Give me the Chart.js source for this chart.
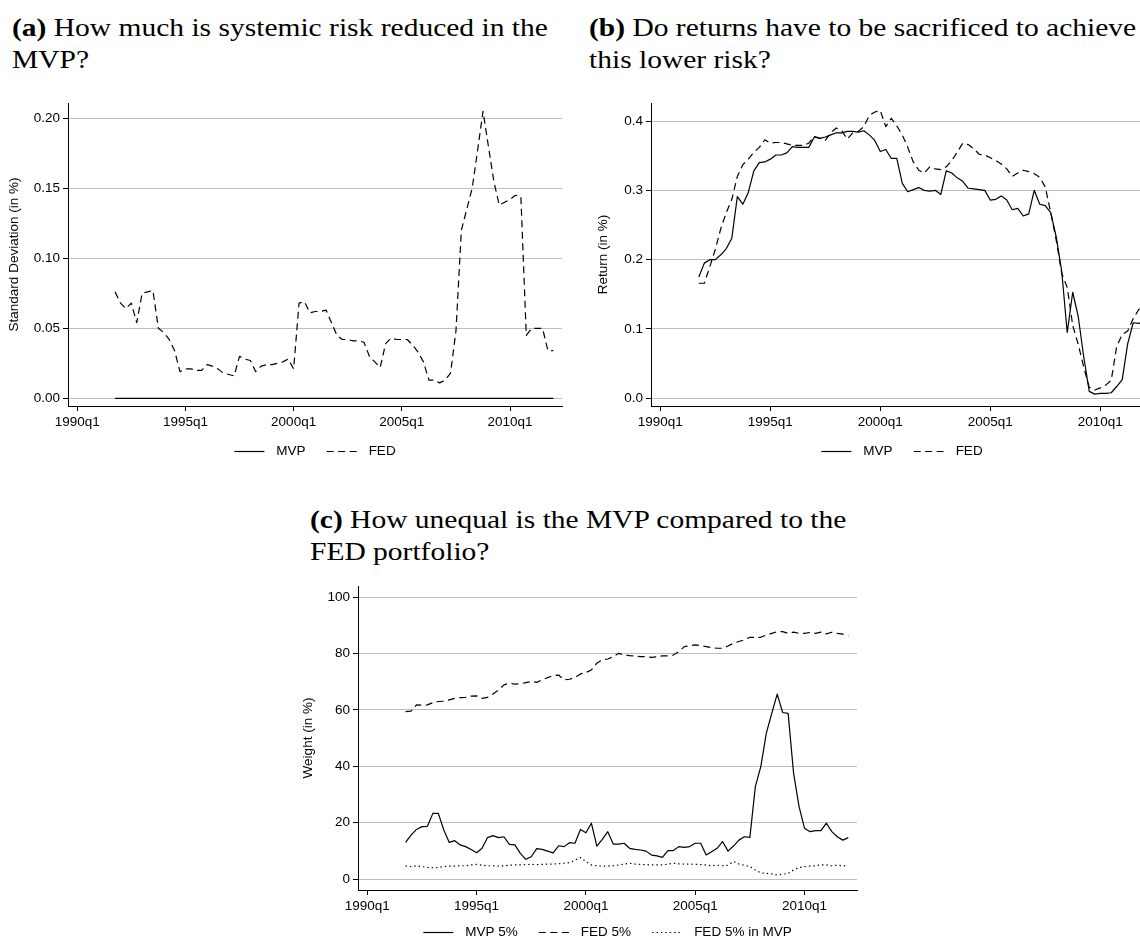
<!DOCTYPE html>
<html>
<head>
<meta charset="utf-8">
<script src="https://cdn.jsdelivr.net/npm/chart.js@4.4.1/dist/chart.umd.min.js"></script>
<style>
  html, body { margin: 0; padding: 0; background: #fff; width: 1140px; height: 940px; overflow: hidden; position: relative; }
  canvas { position: absolute; }
  .cap { position: absolute; font-family: 'Liberation Serif', 'Times New Roman', serif; font-size: 25px; line-height: 32px; color: #000; white-space: nowrap; transform: scaleX(1.18); transform-origin: 0 0; }
  .cap b { font-weight: bold; }
</style>
</head>
<body>
<div class="cap" style="left:12px;top:12px"><b>(a)</b> How much is systemic risk reduced in the<br>MVP?</div>
<div class="cap" style="left:589px;top:12px"><b>(b)</b> Do returns have to be sacrificed to achieve<br>this lower risk?</div>
<div class="cap" style="left:310px;top:504px"><b>(c)</b> How unequal is the MVP compared to the<br>FED portfolio?</div>

<canvas id="chartA" width="570" height="380" style="left:0;top:90px"></canvas>
<canvas id="chartB" width="600" height="380" style="left:570px;top:90px"></canvas>
<canvas id="chartC" width="580" height="370" style="left:290px;top:570px"></canvas>

<script>
// Quarters counted from 1990q1 (0 = 1990q1); the sample runs 1991q4 .. 2012q1
const quarters = [];
for (let q = 7; q <= 88; q++) quarters.push(q);

// Date axis ticks
const xTickValues = [0, 20, 40, 60, 80];
const xTickLabels = ['1990q1', '1995q1', '2000q1', '2005q1', '2010q1'];

// (a) Standard deviation (in %)
const sdMVP = [
  0, 0, 0, 0, 0, 0, 0, 0, 0, 0, 0, 0, 0, 0, 0, 0, 0, 0, 0, 0,
  0, 0, 0, 0, 0, 0, 0, 0, 0, 0, 0, 0, 0, 0, 0, 0, 0, 0, 0, 0,
  0, 0, 0, 0, 0, 0, 0, 0, 0, 0, 0, 0, 0, 0, 0, 0, 0, 0, 0, 0,
  0, 0, 0, 0, 0, 0, 0, 0, 0, 0, 0, 0, 0, 0, 0, 0, 0, 0, 0, 0,
  0, 0
];
const sdFED = [
  0.076, 0.068, 0.064, 0.068, 0.054, 0.075, 0.076, 0.077, 0.050, 0.047,
  0.042, 0.034, 0.019, 0.021, 0.021, 0.020, 0.020, 0.024, 0.023, 0.021,
  0.018, 0.017, 0.016, 0.030, 0.028, 0.027, 0.019, 0.023, 0.024, 0.024,
  0.025, 0.026, 0.028, 0.021, 0.068, 0.069, 0.061, 0.062, 0.062, 0.063,
  0.054, 0.045, 0.042, 0.042, 0.041, 0.041, 0.040, 0.030, 0.026, 0.022,
  0.039, 0.043, 0.042, 0.042, 0.042, 0.038, 0.033, 0.026, 0.013, 0.013,
  0.011, 0.013, 0.018, 0.048, 0.120, 0.135, 0.150, 0.177, 0.205, 0.180,
  0.155, 0.138, 0.140, 0.142, 0.145, 0.144, 0.045, 0.050, 0.050, 0.050,
  0.034, 0.034
];
const sdTickValues = [0, 0.05, 0.10, 0.15, 0.20];
const sdTickLabels = ['0.00', '0.05', '0.10', '0.15', '0.20'];

// (b) Return (in %)
const retMVP = [
  0.175, 0.195, 0.200, 0.200, 0.207, 0.216, 0.231, 0.291, 0.280, 0.297,
  0.328, 0.340, 0.341, 0.345, 0.351, 0.351, 0.354, 0.363, 0.362, 0.362,
  0.362, 0.377, 0.375, 0.377, 0.380, 0.383, 0.383, 0.385, 0.385, 0.384,
  0.386, 0.380, 0.372, 0.356, 0.359, 0.346, 0.346, 0.310, 0.298, 0.301,
  0.304, 0.300, 0.299, 0.300, 0.294, 0.328, 0.325, 0.318, 0.313, 0.303,
  0.302, 0.301, 0.300, 0.286, 0.287, 0.292, 0.286, 0.272, 0.274, 0.263,
  0.266, 0.300, 0.280, 0.278, 0.268, 0.233, 0.183, 0.095, 0.153, 0.118,
  0.060, 0.010, 0.006, 0.007, 0.007, 0.008, 0.017, 0.027, 0.079, 0.109,
  0.108, 0.110
];
const retFED = [
  0.166, 0.166, 0.190, 0.215, 0.245, 0.268, 0.287, 0.320, 0.337, 0.345,
  0.355, 0.362, 0.373, 0.368, 0.369, 0.369, 0.367, 0.365, 0.365, 0.365,
  0.368, 0.378, 0.375, 0.372, 0.383, 0.390, 0.386, 0.374, 0.383, 0.385,
  0.392, 0.408, 0.413, 0.415, 0.392, 0.404, 0.393, 0.380, 0.362, 0.341,
  0.329, 0.325, 0.334, 0.331, 0.330, 0.334, 0.343, 0.355, 0.368, 0.366,
  0.360, 0.352, 0.351, 0.347, 0.343, 0.338, 0.331, 0.320, 0.325, 0.329,
  0.327, 0.324, 0.319, 0.305, 0.268, 0.228, 0.180, 0.160, 0.105, 0.078,
  0.045, 0.016, 0.012, 0.015, 0.019, 0.026, 0.075, 0.092, 0.097, 0.115,
  0.128, 0.135
];
const retTickValues = [0, 0.1, 0.2, 0.3, 0.4];
const retTickLabels = ['0.0', '0.1', '0.2', '0.3', '0.4'];

// (c) Weight (in %)
const wMVP5 = [
  13.0, 15.6, 17.6, 18.6, 18.7, 23.3, 23.3, 17.4, 13.0, 13.6,
  12.1, 11.5, 10.5, 9.3, 10.9, 14.7, 15.4, 14.7, 15.0, 12.3,
  12.1, 9.1, 7.0, 7.9, 10.8, 10.5, 9.9, 9.3, 11.8, 11.5,
  12.9, 12.7, 17.6, 16.4, 19.8, 11.7, 14.1, 16.8, 12.4, 12.4,
  12.7, 10.9, 10.5, 10.3, 9.9, 8.5, 8.2, 7.7, 10.1, 10.1,
  11.5, 11.2, 11.5, 12.7, 12.7, 8.5, 9.7, 10.9, 13.3, 9.9,
  11.7, 13.8, 15.0, 14.8, 32.8, 39.9, 51.7, 58.8, 65.6, 59.1,
  58.8, 37.5, 25.7, 18.0, 16.8, 17.2, 17.2, 19.8, 16.8, 15.0,
  13.8, 14.7
];
const wFED5 = [
  59.4, 59.6, 61.8, 61.7, 61.8, 62.6, 63.0, 63.1, 63.6, 64.1,
  64.4, 64.5, 64.9, 65.0, 64.1, 64.5, 65.7, 67.1, 68.9, 69.5,
  69.2, 69.3, 69.7, 70.1, 69.8, 70.7, 71.5, 72.2, 72.4, 70.7,
  70.9, 71.5, 72.8, 73.3, 74.2, 76.6, 77.8, 78.1, 78.9, 80.1,
  79.5, 79.3, 79.2, 78.9, 78.9, 78.7, 78.9, 79.2, 79.2, 79.5,
  80.7, 82.5, 82.8, 83.1, 82.8, 82.5, 82.1, 81.9, 81.9, 82.7,
  83.7, 84.3, 84.9, 85.8, 85.8, 85.8, 86.6, 87.2, 87.8, 87.8,
  87.2, 87.6, 87.2, 87.2, 87.5, 87.2, 87.6, 87.0, 87.6, 87.2,
  86.9, 86.4
];
const wFED5inMVP = [
  4.6, 4.4, 4.7, 4.4, 4.1, 4.0, 4.1, 4.4, 4.6, 4.6,
  4.7, 4.7, 5.0, 5.2, 4.9, 4.7, 4.7, 4.6, 4.7, 4.9,
  5.0, 5.0, 5.1, 5.2, 5.1, 5.2, 5.3, 5.3, 5.4, 5.6,
  5.8, 6.7, 7.6, 6.2, 5.0, 4.7, 4.6, 4.6, 4.7, 5.0,
  5.3, 5.6, 5.3, 5.2, 5.1, 5.0, 5.0, 5.0, 5.3, 5.6,
  5.4, 5.3, 5.3, 5.2, 5.1, 5.0, 4.7, 4.9, 4.7, 4.9,
  6.2, 5.3, 4.9, 4.4, 3.2, 2.2, 2.0, 1.8, 1.4, 1.7,
  2.0, 3.2, 4.1, 4.4, 4.6, 4.7, 5.0, 5.0, 4.7, 4.9,
  4.7, 4.6
];
const wTickValues = [0, 20, 40, 60, 80, 100];
const wTickLabels = ['0', '20', '40', '60', '80', '100'];

// ---------------------------------------------------------------
const SANS = "'Liberation Sans', Arial, Helvetica, sans-serif";
const FONT = { family: SANS, size: 13.5 };
const SOLID = [];
const DASH = [7, 4.5];
const DOT = [1.4, 3];

Chart.defaults.color = '#000';
Chart.defaults.font.family = SANS;

function series(label, values, dash) {
  return {
    label,
    data: values.map((v, i) => ({ x: quarters[i], y: v })),
    borderColor: '#000',
    borderWidth: 1.2,
    borderDash: dash,
    borderJoinStyle: 'round',
    pointRadius: 0,
    fill: false,
    tension: 0
  };
}

// Legend row centred under the plot: short line sample followed by its label
const lineLegend = {
  id: 'lineLegend',
  afterDraw(chart, args, opts) {
    const { ctx, chartArea } = chart;
    const sample = 30, gapText = 12, gapItem = 21;
    ctx.save();
    ctx.font = `13.5px ${SANS}`;
    const items = chart.data.datasets.map(ds => ({ ds, w: ctx.measureText(ds.label).width }));
    const total = items.reduce((s, it) => s + sample + gapText + it.w, 0) + gapItem * (items.length - 1);
    let x = (chartArea.left + chartArea.right) / 2 - total / 2;
    const y = chartArea.bottom + (opts.offset || 45);
    ctx.textBaseline = 'middle';
    ctx.fillStyle = '#000';
    for (const it of items) {
      ctx.beginPath();
      ctx.setLineDash(it.ds.borderDash);
      ctx.lineWidth = it.ds.borderWidth;
      ctx.strokeStyle = '#000';
      ctx.moveTo(x, y + 0.5);
      ctx.lineTo(x + sample, y + 0.5);
      ctx.stroke();
      ctx.setLineDash([]);
      ctx.fillText(it.ds.label, x + sample + gapText, y);
      x += sample + gapText + it.w + gapItem;
    }
    ctx.restore();
  }
};

function makeChart(id, p) {
  return new Chart(document.getElementById(id), {
    type: 'line',
    data: { datasets: p.datasets },
    plugins: [lineLegend],
    options: {
      responsive: false,
      animation: false,
      devicePixelRatio: 1,
      layout: { padding: p.padding },
      plugins: { legend: { display: false }, tooltip: { enabled: false }, lineLegend: { offset: p.legendOffset } },
      scales: {
        x: {
          type: 'linear',
          min: -1.7,
          max: 89.6,
          afterBuildTicks: s => { s.ticks = xTickValues.map(v => ({ value: v })); },
          afterFit: s => { s.height = 30; },
          ticks: {
            autoSkip: false, maxRotation: 0, padding: 3, font: FONT, color: '#000',
            callback: (v, i) => xTickLabels[i]
          },
          grid: { drawOnChartArea: false, drawTicks: true, tickLength: 5, tickColor: '#000', tickWidth: 1 },
          border: { display: true, color: '#000', width: 1 }
        },
        y: {
          type: 'linear',
          min: p.yMin,
          max: p.yMax,
          afterBuildTicks: s => { s.ticks = p.yTicks.map(v => ({ value: v })); },
          afterFit: s => { s.width = p.yWidth; },
          ticks: {
            padding: 3, font: FONT, color: '#000',
            callback: (v, i) => p.yLabels[i]
          },
          grid: { color: '#bfbfbf', lineWidth: 1, tickLength: 5, tickColor: '#000', tickWidth: 1 },
          border: { display: true, color: '#000', width: 1 },
          title: { display: true, text: p.yTitle, font: FONT, color: '#000', padding: { top: p.titlePad, bottom: 0 } }
        }
      }
    }
  });
}

makeChart('chartA', {
  datasets: [series('MVP', sdMVP, SOLID), series('FED', sdFED, DASH)],
  padding: { top: 13, right: 8, bottom: 34, left: 0 },
  yWidth: 68, titlePad: 6, legendOffset: 45,
  yMin: -0.0055, yMax: 0.2109,
  yTicks: sdTickValues, yLabels: sdTickLabels,
  yTitle: 'Standard Deviation (in %)'
});

makeChart('chartB', {
  datasets: [series('MVP', retMVP, SOLID), series('FED', retFED, DASH)],
  padding: { top: 13, right: 17, bottom: 34, left: 0 },
  yWidth: 81, titlePad: 25, legendOffset: 45,
  yMin: -0.0111, yMax: 0.426,
  yTicks: retTickValues, yLabels: retTickLabels,
  yTitle: 'Return (in %)'
});

makeChart('chartC', {
  datasets: [
    series('MVP 5%', wMVP5, SOLID),
    series('FED 5%', wFED5, DASH),
    series('FED 5% in MVP', wFED5inMVP, DOT)
  ],
  padding: { top: 16, right: 13, bottom: 20, left: 0 },
  yWidth: 68, titlePad: 10, legendOffset: 42,
  yMin: -3.9, yMax: 104,
  yTicks: wTickValues, yLabels: wTickLabels,
  yTitle: 'Weight (in %)'
});
</script>
</body>
</html>
